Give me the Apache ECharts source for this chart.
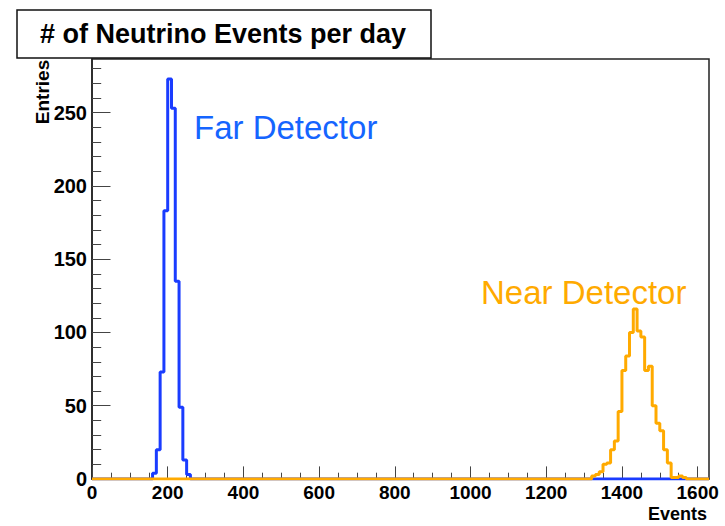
<!DOCTYPE html>
<html>
<head>
<meta charset="utf-8">
<script src="https://cdn.jsdelivr.net/npm/echarts@6/dist/echarts.min.js"></script>
<style>
  html, body { margin: 0; padding: 0; background: #fff; }
  #chart { width: 725px; height: 526px; }
</style>
</head>
<body>
<div id="chart"></div>
<script>
// Daily neutrino event counts, histogrammed in bins of 10 events
const binWidth = 10;
const xRange = [0, 1630];
const yRange = [0, 286.65];

const farLowEdges = [160, 170, 180, 190, 200, 210, 220, 230, 240, 250];
const farCounts   = [4, 20, 73, 183, 273, 253, 135, 49, 13, 3];

const nearLowEdges = [1320, 1330, 1340, 1350, 1360, 1370, 1380, 1390, 1400, 1410,
                      1420, 1430, 1440, 1450, 1460, 1470, 1480, 1490, 1500, 1510,
                      1520, 1530, 1540, 1550, 1560];
const nearCounts   = [2, 3, 5, 10, 11, 20, 26, 46, 74, 84,
                      100, 116, 101, 97, 74, 77, 50, 38, 33, 20,
                      11, 1, 1, 2, 1];

const xMajorTicks = [0, 200, 400, 600, 800, 1000, 1200, 1400, 1600];
const xMinorTicks = [50, 100, 150, 250, 300, 350, 450, 500, 550, 650, 700, 750,
                     850, 900, 950, 1050, 1100, 1150, 1250, 1300, 1350, 1450, 1500, 1550];
const yMajorTicks = [0, 50, 100, 150, 200, 250];
const yMinorTicks = [10, 20, 30, 40, 60, 70, 80, 90, 110, 120, 130, 140, 160, 170, 180, 190,
                     210, 220, 230, 240, 260, 270, 280];

const titleText = '# of Neutrino Events per day';
const xTitle = 'Events';
const yTitle = 'Entries';
const farLabel = 'Far Detector';
const nearLabel = 'Near Detector';

// Step outline of a histogram: zero line across the full range, one step per bin
function histOutline(lowEdges, counts) {
  const pts = [[xRange[0], 0]];
  lowEdges.forEach((e, i) => pts.push([e, counts[i]]));
  pts.push([lowEdges[lowEdges.length - 1] + binWidth, 0]);
  pts.push([xRange[1], 0]);
  return pts;
}

const FONT = '"Liberation Sans", Arial, Helvetica, sans-serif';
const gridBox = { left: 92, top: 59, width: 617, height: 420 };
const labelStyle = { color: '#000', fontFamily: FONT, fontWeight: 'bold', fontSize: 19 };
const plainNumber = (v) => String(v);

const chart = echarts.init(document.getElementById('chart'), null, { renderer: 'svg' });

chart.setOption({
  animation: false,
  backgroundColor: '#fff',
  grid: {
    left: gridBox.left, top: gridBox.top, width: gridBox.width, height: gridBox.height,
    show: true, borderColor: '#222', borderWidth: 1.5, backgroundColor: '#fff'
  },
  xAxis: [
    {
      type: 'value', min: xRange[0], max: xRange[1], interval: 200, position: 'bottom',
      axisLine: { show: true, onZero: false, lineStyle: { color: '#222', width: 1.5 } },
      axisTick: { show: true, inside: true, length: 12.6, customValues: xMajorTicks,
                  lineStyle: { color: '#444', width: 1 } },
      axisLabel: { show: true, margin: 4, customValues: xMajorTicks, formatter: plainNumber,
                   ...labelStyle },
      splitLine: { show: false }
    },
    {
      type: 'value', min: xRange[0], max: xRange[1], position: 'bottom',
      axisLine: { show: false },
      axisTick: { show: true, inside: true, length: 6.3, customValues: xMinorTicks,
                  lineStyle: { color: '#444', width: 1 } },
      axisLabel: { show: false },
      splitLine: { show: false }
    }
  ],
  yAxis: [
    {
      type: 'value', min: yRange[0], max: yRange[1], interval: 50, position: 'left',
      axisLine: { show: true, onZero: false, lineStyle: { color: '#222', width: 1.5 } },
      axisTick: { show: true, inside: true, length: 18.5, customValues: yMajorTicks,
                  lineStyle: { color: '#444', width: 1 } },
      axisLabel: { show: true, margin: 5, customValues: yMajorTicks, formatter: plainNumber,
                   ...labelStyle, fontSize: 20 },
      splitLine: { show: false }
    },
    {
      type: 'value', min: yRange[0], max: yRange[1], position: 'left',
      axisLine: { show: false },
      axisTick: { show: true, inside: true, length: 9.2, customValues: yMinorTicks,
                  lineStyle: { color: '#444', width: 1 } },
      axisLabel: { show: false },
      splitLine: { show: false }
    }
  ],
  series: [
    {
      name: farLabel, type: 'line', step: 'end', showSymbol: false, symbol: 'none',
      xAxisIndex: 0, yAxisIndex: 0,
      data: histOutline(farLowEdges, farCounts),
      lineStyle: { color: '#1a3cff', width: 3 }, z: 3
    },
    {
      name: nearLabel, type: 'line', step: 'end', showSymbol: false, symbol: 'none',
      xAxisIndex: 0, yAxisIndex: 0,
      data: histOutline(nearLowEdges, nearCounts),
      lineStyle: { color: '#ffaa00', width: 3 }, z: 4
    }
  ],
  graphic: [
    {
      type: 'rect', z: 100,
      shape: { x: 17, y: 10, width: 414, height: 48 },
      style: { fill: '#fff', stroke: '#111', lineWidth: 1.5 }
    },
    {
      type: 'text', z: 101, x: 223, y: 34,
      style: { text: titleText, fill: '#000', font: 'bold 27px ' + FONT,
               textAlign: 'center', textVerticalAlign: 'middle' }
    },
    {
      type: 'text', z: 101, x: 42, y: 92, rotation: Math.PI / 2,
      style: { text: yTitle, fill: '#000', font: 'bold 19px ' + FONT,
               textAlign: 'center', textVerticalAlign: 'middle' }
    },
    {
      type: 'text', z: 101, x: 707, y: 514,
      style: { text: xTitle, fill: '#000', font: 'bold 18px ' + FONT,
               textAlign: 'right', textVerticalAlign: 'middle' }
    },
    {
      type: 'text', z: 101, x: 194, y: 127,
      style: { text: farLabel, fill: '#1565ff', font: '33px ' + FONT,
               textAlign: 'left', textVerticalAlign: 'middle' }
    },
    {
      type: 'text', z: 101, x: 481, y: 292,
      style: { text: nearLabel, fill: '#ffaa00', font: '33px ' + FONT,
               textAlign: 'left', textVerticalAlign: 'middle' }
    }
  ]
});
</script>
</body>
</html>
